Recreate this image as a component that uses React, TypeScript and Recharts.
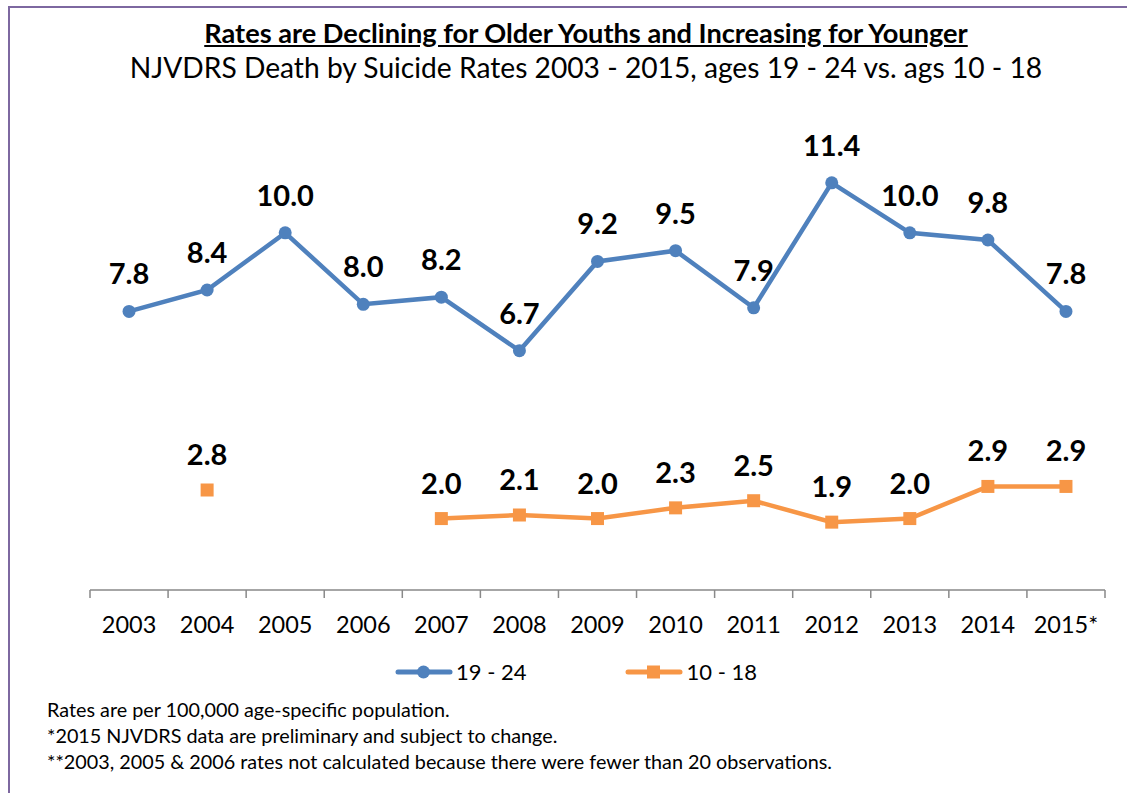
import React from 'react';
import { LineChart, Line, XAxis, YAxis, LabelList } from 'recharts';

const years = ['2003', '2004', '2005', '2006', '2007', '2008', '2009', '2010', '2011', '2012', '2013', '2014', '2015*'];
const rates19to24 = [7.8, 8.4, 10.0, 8.0, 8.2, 6.7, 9.2, 9.5, 7.9, 11.4, 10.0, 9.8, 7.8];
const rates10to18 = [null, 2.8, null, null, 2.0, 2.1, 2.0, 2.3, 2.5, 1.9, 2.0, 2.9, 2.9];
const seriesNames = ['19 - 24', '10 - 18'];
const yDomain = [0, 14];
const titleText = 'Rates are Declining for Older Youths and Increasing for Younger';
const subtitleText = 'NJVDRS Death by Suicide Rates 2003 - 2015, ages 19 - 24 vs. ags 10 - 18';
const footnotes = [
  'Rates are per 100,000 age-specific population.',
  '*2015 NJVDRS data are preliminary and subject to change.',
  '**2003, 2005 & 2006 rates not calculated because there were fewer than 20 observations.',
];

const data = years.map((year, i) => ({ year, older: rates19to24[i], younger: rates10to18[i] }));

const BLUE = '#4F81BD';
const ORANGE = '#F79646';
const AXIS = '#898989';
const BORDER = '#7D68A0';
const FONT = "Lato, 'Open Sans', 'DejaVu Sans', sans-serif";

const fmt = (v: any) => (v == null ? '' : Number(v).toFixed(1));

const SquareDot = (props: any) => {
  const { cx, cy, index, payload } = props;
  if (payload == null || payload.younger == null || cx == null || cy == null) {
    return <g key={`sq-${index}`} />;
  }
  return <rect key={`sq-${index}`} x={cx - 6.5} y={cy - 6.5} width={13} height={13} fill={ORANGE} />;
};

const YearTick = (props: any) => {
  const { x, y, payload, index, visibleTicksCount } = props;
  const half = payload && payload.offset != null ? payload.offset : 0;
  const top = y - 8;
  const isLast = visibleTicksCount != null ? index === visibleTicksCount - 1 : payload.value === years[years.length - 1];
  return (
    <g>
      <line x1={x - half} x2={x - half} y1={top} y2={y} stroke={AXIS} strokeWidth={1.5} />
      {isLast && <line x1={x + half} x2={x + half} y1={top} y2={y} stroke={AXIS} strokeWidth={1.5} />}
      <text x={x} y={y + 35} textAnchor="middle" fontSize={23.5} fill="#000" fontFamily={FONT}>
        {payload.value}
      </text>
    </g>
  );
};

const LegendIcon = ({ color, square }: { color: string; square: boolean }) => (
  <svg width={58} height={16} style={{ display: 'block' }}>
    <line x1={3} x2={55} y1={8} y2={8} stroke={color} strokeWidth={5} strokeLinecap="round" />
    {square ? <rect x={22} y={1.5} width={13} height={13} fill={color} /> : <circle cx={28.5} cy={8} r={6.5} fill={color} />}
  </svg>
);

export default function App() {
  return (
    <div style={{ position: 'absolute', left: 0, top: 0, width: 1127, height: 793, background: '#fff', overflow: 'hidden', fontFamily: FONT }}>
      <div
        style={{
          position: 'absolute',
          left: 8,
          top: 6,
          width: 1200,
          height: 900,
          borderLeft: `2px solid ${BORDER}`,
          borderTop: `2px solid ${BORDER}`,
          boxSizing: 'border-box',
        }}
      />
      <div style={{ position: 'absolute', left: 0, top: 17, width: 1172, textAlign: 'center', fontSize: 27.2, lineHeight: 1.2, fontWeight: 700, textDecoration: 'underline', color: '#000' }}>
        {titleText}
      </div>
      <div style={{ position: 'absolute', left: 0, top: 51, width: 1172, textAlign: 'center', fontSize: 28.2, lineHeight: 1.2, color: '#000' }}>
        {subtitleText}
      </div>
      <div style={{ position: 'absolute', left: 0, top: 0 }}>
        <LineChart width={1127} height={793} data={data} margin={{ top: 90, right: 22, left: 90, bottom: 163 }} style={{ fontFamily: FONT }}>
          <XAxis
            dataKey="year"
            scale="band"
            height={40}
            interval={0}
            tickSize={8}
            tickMargin={0}
            tickLine={false}
            axisLine={{ stroke: AXIS, strokeWidth: 1.5 }}
            tick={<YearTick />}
          />
          <YAxis hide width={0} domain={yDomain} type="number" />
          <Line
            dataKey="older"
            name={seriesNames[0]}
            stroke={BLUE}
            strokeWidth={4.5}
            dot={{ r: 6.5, fill: BLUE, stroke: BLUE, strokeWidth: 0 }}
            activeDot={false}
            isAnimationActive={false}
          >
            <LabelList dataKey="older" position="top" offset={27} formatter={fmt} style={{ fontSize: 29, fontWeight: 700, fill: '#000', fontFamily: FONT }} />
          </Line>
          <Line
            dataKey="younger"
            name={seriesNames[1]}
            stroke={ORANGE}
            strokeWidth={4.5}
            dot={SquareDot}
            activeDot={false}
            connectNulls={false}
            isAnimationActive={false}
          >
            <LabelList dataKey="younger" position="top" offset={25} formatter={fmt} style={{ fontSize: 29, fontWeight: 700, fill: '#000', fontFamily: FONT }} />
          </Line>
        </LineChart>
      </div>
      <div style={{ position: 'absolute', left: 395, top: 658, display: 'flex', alignItems: 'center', fontSize: 22, color: '#000' }}>
        <LegendIcon color={BLUE} square={false} />
        <span style={{ marginLeft: 3 }}>{seriesNames[0]}</span>
        <span style={{ width: 99 }} />
        <LegendIcon color={ORANGE} square={true} />
        <span style={{ marginLeft: 3 }}>{seriesNames[1]}</span>
      </div>
      <div style={{ position: 'absolute', left: 47, top: 696, fontSize: 19.8, lineHeight: '26px', color: '#000' }}>
        {footnotes.map((f) => (
          <div key={f}>{f}</div>
        ))}
      </div>
    </div>
  );
}
